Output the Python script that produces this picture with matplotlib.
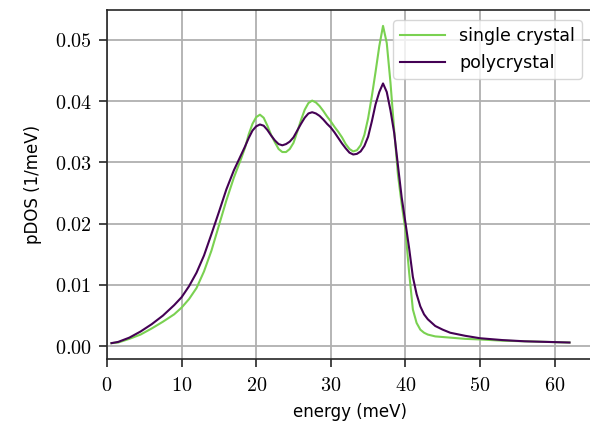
import matplotlib
matplotlib.use("Agg")
import matplotlib.pyplot as plt
from matplotlib.ticker import FuncFormatter, MultipleLocator

energy = [0.6, 1.5, 3, 4.5, 6, 7.5, 9, 10, 11, 12, 13, 14, 15, 16, 17, 18,
          18.5, 19, 19.5, 20, 20.5, 21, 21.5, 22, 22.5, 23, 23.5, 24, 24.5, 25,
          25.5, 26, 26.5, 27, 27.5, 28, 28.5, 29, 29.5, 30, 30.5, 31, 31.5, 32,
          32.5, 33, 33.5, 34, 34.5, 35, 35.5, 36, 36.5, 37, 37.5, 38, 38.5, 39,
          39.5, 40, 40.5, 41, 41.5, 42, 42.5, 43, 44, 45, 46, 48, 50, 53, 56,
          59, 62]

single_crystal = [0.0005, 0.0006, 0.0012, 0.0019, 0.0029, 0.0040, 0.0052, 0.0063,
                  0.0077, 0.0095, 0.0122, 0.0156, 0.0197, 0.0238, 0.0275, 0.0307,
                  0.0324, 0.0346, 0.0363, 0.0374, 0.0378, 0.0373, 0.0360, 0.0345,
                  0.0333, 0.0322, 0.0317, 0.0317, 0.0322, 0.0332, 0.0350, 0.0369,
                  0.0386, 0.0397, 0.0401, 0.0398, 0.0392, 0.0384, 0.0375, 0.0367,
                  0.0358, 0.0350, 0.0341, 0.0330, 0.0322, 0.0318, 0.0320, 0.0328,
                  0.0345, 0.0372, 0.0408, 0.0448, 0.0490, 0.0523, 0.0495, 0.0430,
                  0.0352, 0.0280, 0.0232, 0.0190, 0.0120, 0.0060, 0.0038, 0.0027,
                  0.0022, 0.0019, 0.0016, 0.0015, 0.0014, 0.0012, 0.0011, 0.0009,
                  0.0008, 0.0007, 0.0006]

polycrystal = [0.0005, 0.0007, 0.0014, 0.0024, 0.0036, 0.0050, 0.0067, 0.0080,
               0.0098, 0.0120, 0.0148, 0.0183, 0.0219, 0.0256, 0.0287, 0.0313,
               0.0326, 0.0340, 0.0352, 0.0359, 0.0362, 0.0360, 0.0353, 0.0344,
               0.0336, 0.0330, 0.0328, 0.0330, 0.0334, 0.0341, 0.0352, 0.0363,
               0.0373, 0.0380, 0.0382, 0.0380, 0.0376, 0.0370, 0.0363, 0.0357,
               0.0349, 0.0340, 0.0331, 0.0323, 0.0316, 0.0313, 0.0314, 0.0318,
               0.0327, 0.0342, 0.0367, 0.0395, 0.0415, 0.0429, 0.0415, 0.0385,
               0.0348, 0.0295, 0.0243, 0.0202, 0.0160, 0.0113, 0.0085, 0.0065,
               0.0052, 0.0044, 0.0033, 0.0027, 0.0022, 0.0017, 0.0013, 0.0010,
               0.0008, 0.0007, 0.0006]

plt.rcParams['mathtext.fontset'] = 'cm'
plt.rcParams['font.family'] = ['DejaVu Sans']

fig = plt.figure(figsize=(5.9, 4.26), dpi=100)
ax = fig.add_axes([107/590, 1 - 359/426, 487/590, 349/426])

ax.plot(energy, single_crystal, color='#7AD151', lw=1.5, label='single crystal')
ax.plot(energy, polycrystal, color='#440154', lw=1.5, label='polycrystal')

ax.set_xlim(0, 65.28)
ax.margins(y=0.05)
ax.xaxis.set_major_locator(MultipleLocator(10))
ax.yaxis.set_major_locator(MultipleLocator(0.01))
ax.xaxis.set_major_formatter(FuncFormatter(lambda v, p: f'${v:.0f}$'))
ax.yaxis.set_major_formatter(FuncFormatter(lambda v, p: f'${v:.2f}$'))

ax.grid(True, color='#b0b0b0', lw=1.3)
ax.set_axisbelow(True)
for s in ax.spines.values():
    s.set_color('#262626')
    s.set_linewidth(1.2)
ax.spines['right'].set_visible(False)
ax.tick_params(direction='out', length=6, width=1.2, labelsize=14.5, color='#262626')
ax.tick_params(axis='y', pad=5)
ax.tick_params(axis='x', pad=6)

ax.set_xlabel('energy (meV)', fontsize=12, labelpad=6)
ax.set_ylabel('pDOS (1/meV)', fontsize=12, labelpad=9)

leg = ax.legend(loc='upper right', bbox_to_anchor=(0.975, 0.971), fontsize=12.5,
                handlelength=2.6, framealpha=0.8, edgecolor='#cccccc',
                borderaxespad=0)

fig.savefig('out.png', dpi=100)
